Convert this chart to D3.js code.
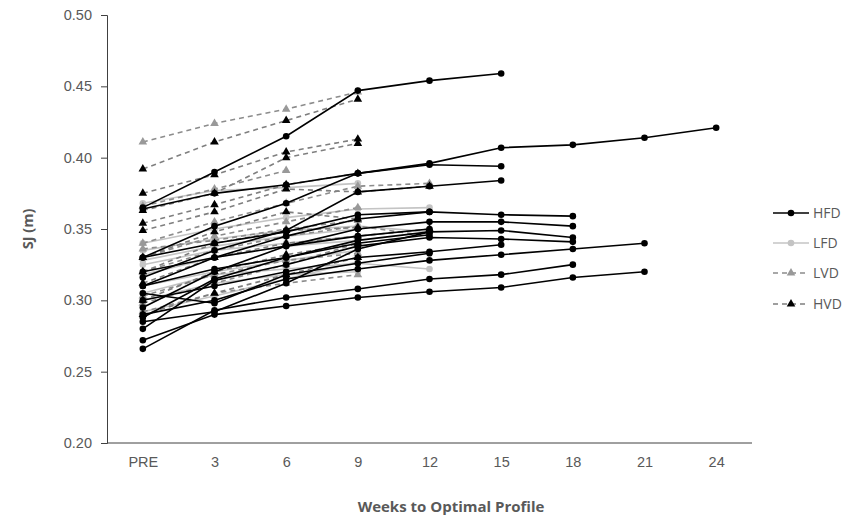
<!DOCTYPE html>
<html>
<head>
<meta charset="utf-8">
<script src="https://cdn.jsdelivr.net/npm/d3@7/dist/d3.min.js"></script>
<style>
  html, body { margin: 0; padding: 0; background: #fff; }
  svg { display: block; font-family: "Open Sans", "Liberation Sans", sans-serif; }
</style>
</head>
<body>
<svg id="chart" width="858" height="521"></svg>
<script>
// Test weeks (x categories)
const weeks = ["PRE", "3", "6", "9", "12", "15", "18", "21", "24"];
const yTicks = [0.20, 0.25, 0.30, 0.35, 0.40, 0.45, 0.50];

// Squat jump height (m) per athlete, one row per athlete, starting at PRE
const hfd = [
  [0.365, 0.390, 0.415, 0.447, 0.454, 0.459],
  [0.364, 0.375, 0.381, 0.389, 0.396, 0.407, 0.409, 0.414, 0.421],
  [0.330, 0.352, 0.368, 0.389, 0.395, 0.394],
  [0.316, 0.335, 0.349, 0.376, 0.380, 0.384],
  [0.310, 0.330, 0.345, 0.357, 0.362, 0.360, 0.359],
  [0.295, 0.320, 0.338, 0.350, 0.355, 0.355, 0.352],
  [0.288, 0.315, 0.330, 0.342, 0.348, 0.349, 0.344],
  [0.280, 0.314, 0.325, 0.338, 0.344, 0.343, 0.341],
  [0.290, 0.300, 0.315, 0.322, 0.328, 0.332, 0.336, 0.340],
  [0.272, 0.290, 0.296, 0.302, 0.306, 0.309, 0.316, 0.320],
  [0.266, 0.293, 0.302, 0.308, 0.315, 0.318, 0.325],
  [0.300, 0.310, 0.320, 0.330, 0.334, 0.339],
  [0.320, 0.330, 0.338, 0.345, 0.350],
  [0.330, 0.340, 0.348, 0.360, 0.362],
  [0.310, 0.322, 0.330, 0.340, 0.346],
  [0.285, 0.292, 0.312, 0.336, 0.348],
  [0.305, 0.298, 0.318, 0.326, 0.333]
];
const lfd = [
  [0.368, 0.377, 0.379, 0.382],
  [0.340, 0.350, 0.358, 0.364, 0.365],
  [0.335, 0.343, 0.349, 0.352, 0.348],
  [0.325, 0.335, 0.340, 0.345],
  [0.318, 0.330, 0.338, 0.342],
  [0.305, 0.318, 0.322, 0.326, 0.322],
  [0.300, 0.312, 0.318, 0.320],
  [0.328, 0.338, 0.345, 0.350],
  [0.310, 0.320, 0.328, 0.335],
  [0.292, 0.303, 0.315, 0.327]
];
const lvd = [
  [0.411, 0.424, 0.434, 0.446],
  [0.366, 0.378, 0.391],
  [0.340, 0.355, 0.368, 0.380, 0.382],
  [0.330, 0.345, 0.355, 0.365],
  [0.320, 0.335, 0.345, 0.352, 0.345],
  [0.303, 0.318, 0.328, 0.333],
  [0.292, 0.305, 0.312, 0.318],
  [0.298, 0.312, 0.325, 0.340],
  [0.336, 0.342, 0.350, 0.356]
];
const hvd = [
  [0.392, 0.411, 0.426, 0.441],
  [0.375, 0.388, 0.404, 0.413],
  [0.363, 0.375, 0.400, 0.410],
  [0.354, 0.367, 0.381, 0.389],
  [0.349, 0.362, 0.378, 0.376, 0.380],
  [0.330, 0.348, 0.362, 0.357],
  [0.320, 0.340, 0.349, 0.351],
  [0.312, 0.330, 0.340, 0.345, 0.350],
  [0.300, 0.320, 0.332, 0.340],
  [0.290, 0.305, 0.318, 0.330]
];

const groups = [
  { name: "HFD", rows: hfd, line: "#000000", mark: "#000000", shape: "circle", dash: null, width: 1.6 },
  { name: "LFD", rows: lfd, line: "#c4c4c4", mark: "#c4c4c4", shape: "circle", dash: null, width: 1.6 },
  { name: "LVD", rows: lvd, line: "#8c8c8c", mark: "#999999", shape: "triangle", dash: "5,4", width: 1.6 },
  { name: "HVD", rows: hvd, line: "#7f7f7f", mark: "#000000", shape: "triangle", dash: "5,4", width: 1.6 }
];

const svg = d3.select("#chart");
const x = d3.scalePoint().domain(weeks).range([107, 752]).padding(0.5);
const y = d3.scaleLinear().domain([0.20, 0.50]).range([443, 15]);

const textColor = "#595959";

// y axis
const yAxis = svg.append("g").attr("transform", "translate(107,0)")
  .call(d3.axisLeft(y).tickValues(yTicks).tickFormat(d3.format(".2f")).tickSize(6).tickPadding(9));
yAxis.select(".domain").attr("stroke", "#404040");
yAxis.selectAll(".tick line").attr("stroke", "#404040");
yAxis.selectAll("text").attr("fill", textColor).style("font-size", "14.5px");

// x axis
const xAxis = svg.append("g").attr("transform", "translate(0,443)")
  .call(d3.axisBottom(x).tickSize(0).tickPadding(14));
xAxis.select(".domain").attr("stroke", "#404040").attr("d", "M107,0H752");
xAxis.selectAll("text").attr("fill", textColor).style("font-size", "14.5px");

// axis titles
svg.append("text").attr("x", 451).attr("y", 512).attr("text-anchor", "middle")
  .attr("fill", textColor).style("font-size", "15px").style("font-weight", "bold")
  .text("Weeks to Optimal Profile");
svg.append("text").attr("transform", "translate(33,229) rotate(-90)").attr("text-anchor", "middle")
  .attr("fill", textColor).style("font-size", "14.5px").style("font-weight", "bold")
  .text("SJ (m)");

const line = d3.line().x((d, i) => x(weeks[i])).y(d => y(d));
const tri = d3.symbol().type(d3.symbolTriangle).size(32);

function drawMarker(sel, g, cx, cy) {
  if (g.shape === "circle") {
    sel.append("circle").attr("cx", cx).attr("cy", cy).attr("r", 3.3).attr("fill", g.mark);
  } else {
    sel.append("path").attr("d", tri).attr("transform", `translate(${cx},${cy})`).attr("fill", g.mark);
  }
}

// plot order: lighter groups underneath, HFD on top
const drawOrder = [groups[1], groups[2], groups[3], groups[0]];
drawOrder.forEach(g => {
  const layer = svg.append("g").attr("class", "grp-" + g.name);
  g.rows.forEach(row => {
    layer.append("path").attr("d", line(row)).attr("fill", "none")
      .attr("stroke", g.line).attr("stroke-width", g.width)
      .attr("stroke-dasharray", g.dash);
    row.forEach((v, i) => drawMarker(layer, g, x(weeks[i]), y(v)));
  });
});

// legend
const legY = [213, 243, 273, 304];
groups.forEach((g, i) => {
  const lg = svg.append("g").attr("transform", `translate(0,${legY[i]})`);
  lg.append("line").attr("x1", 773).attr("x2", 809).attr("y1", 0).attr("y2", 0)
    .attr("stroke", g.line).attr("stroke-width", g.width).attr("stroke-dasharray", g.dash);
  drawMarker(lg, g, 791, 0);
  lg.append("text").attr("x", 813).attr("y", 5).attr("fill", textColor)
    .style("font-size", "14px").text(g.name);
});
</script>
</body>
</html>
